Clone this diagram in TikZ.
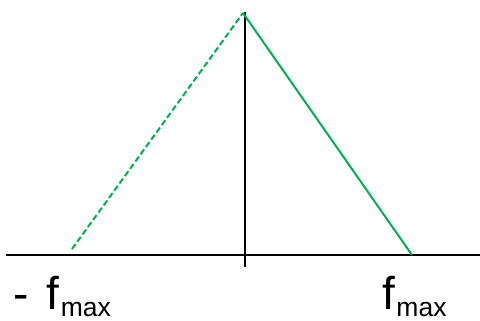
\documentclass[tikz,border=0pt]{standalone}
\usepackage{fontspec}
\setmainfont{Liberation Sans}
\definecolor{lgreen}{RGB}{0,176,80}
\tikzset{
  axis/.style={draw=black, line width=2pt},
  curve/.style={draw=lgreen, line width=2pt},
  lbl/.style={inner sep=0pt, anchor=base west},
}
\newcommand{\fmaxlbl}[1]{{\fontsize{46}{46}\selectfont #1f}\hspace{1.5pt}\raisebox{-7pt}{\fontsize{26.5}{26.5}\selectfont max}}
\begin{document}
\begin{tikzpicture}[x=1pt,y=-1pt]
\useasboundingbox (0,0) rectangle (480,321);
\coordinate (xl) at (6,255);
\coordinate (xr) at (480,255);
\coordinate (yt) at (245,12);
\coordinate (yb) at (245,267);
\coordinate (top) at (243,13);
\coordinate (lb) at (72,249);
\coordinate (rb) at (412,255);
\draw[axis] (xl) -- (xr);
\draw[axis] (yt) -- (yb);
\draw[curve, dash pattern=on 6pt off 3pt] (lb) -- (top);
\draw[curve] (top) -- (rb);
\node[lbl] (lf) at (13,309) {\fmaxlbl{-\hspace{18pt}}};
\node[lbl] (rf) at (382,309) {\fmaxlbl{}};
\end{tikzpicture}
\end{document}
